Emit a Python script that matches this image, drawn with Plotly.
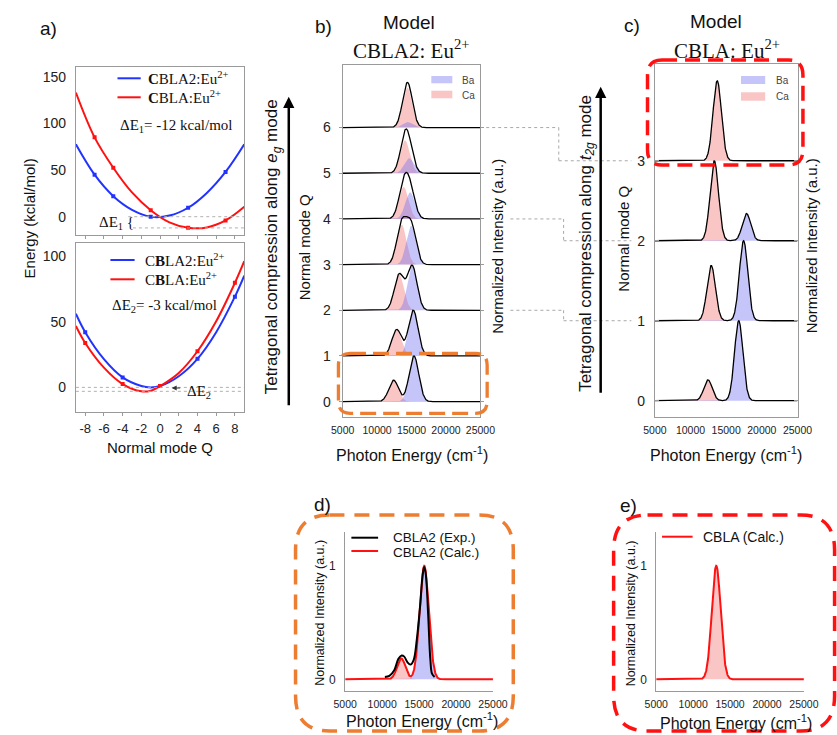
import numpy as np
import plotly.graph_objects as go

W, H = 837, 735

# ---------------- data ----------------
# Panel a (top): energy curves along e_g-like coordinate
qa_top = [-9, -7, -5, -3, -1, 1, 3, 5, 7, 9]
ea_top_cbla2 = [77.6, 45, 22, 7.4, 0, 1.2, 9.6, 25.5, 48, 77.6]
ea_top_cbla = [133, 85, 52.5, 26, 7, -6, -11.8, -11.5, -4, 10.7]
qa_top_pts = [-7, -5, -1, 3, 7]
ea_top_cbla2_pts = [45, 22, 0, 9.6, 48]
ea_top_cbla_pts = [85, 52.5, 7, -11.8, -4]
# Panel a (bottom)
qa_bot = [-9, -8, -6, -4, -2, -1, 0, 2, 4, 6, 8, 9]
ea_bot_cbla2 = [56, 42, 21.5, 7.6, 1, 0, 1, 8.5, 21.7, 42, 69, 85]
ea_bot_cbla = [46.7, 33.8, 15, 2.5, -3, -2.5, 1, 11, 27.5, 50.3, 79.5, 96]
qa_bot_pts = [-8, -4, 0, 4, 8]
ea_bot_cbla2_pts = [42, 7.6, 1, 21.7, 69]
ea_bot_cbla_pts = [33.8, 2.5, 1, 27.5, 79.5]
delta_e = [-12, -3]
x_ticks_a = [-8, -6, -4, -2, 0, 2, 4, 6, 8]

# Panel b: CBLA2 model spectra (band centre cm-1, relative height)
q_b = [0, 1, 2, 3, 4, 5, 6]
b_ca_center = [12400, 12850, 13200, 13550, 13850, 14050, 14400]
b_ca_height = [0.47, 0.58, 0.78, 0.88, 0.70, 0.72, 0.87]
b_ba_center = [15350, 15250, 15100, 14950, 14800, 14650, 14450]
b_ba_height = [1.0, 1.0, 0.97, 0.85, 0.58, 0.33, 0.12]
b_width = 700

# Panel c: CBLA model spectra
q_c = [0, 1, 2, 3]
c_ca_center = [12450, 12900, 13330, 13740]
c_ca_height = [0.26, 0.69, 1.0, 1.0]
c_ba_center = [16760, 17440, 17850, 17900]
c_ba_height = [1.0, 1.0, 0.34, 0.0]
c_width = 590

# Panel d: CBLA2 experiment vs calc
d_exp_x = [10370, 10980, 11640, 12200, 12640, 12990, 13430, 13820, 14260, 14690,
           15130, 15480, 15700, 15920, 16220, 16530, 16750, 17100]
d_exp_y = [0.02, 0.03, 0.08, 0.18, 0.21, 0.20, 0.15, 0.13, 0.17, 0.35,
           0.64, 0.92, 0.99, 0.92, 0.58, 0.17, 0.05, 0.02]
d_calc_ca = (12580, 0.185, 560)
d_calc_ba = (15700, 1.0, 620)

# Panel e: CBLA calc
e_calc_ca = (13130, 1.0, 600)

energy_ticks = [5000, 10000, 15000, 20000, 25000]
energy_labels = ['5000', '10000', '15000', '20000', '25000']
q_labels_a = ['-8', '-6', '-4', '-2', '0', '2', '4', '6', '8']

# ---------------- geometry ----------------
AX = {
    'a1': dict(x=(66, 240), y=(66.7, 235), xr=[-9, 9], yr=[-19.6, 160.7]),
    'a2': dict(x=(66, 240), y=(243.3, 411.7), xr=[-9, 9], yr=[-18.5, 109.6]),
    'b': dict(x=(341.7, 484), y=(65, 416.7), xr=[5000, 25000], yr=[-0.33, 7.37]),
    'c': dict(x=(664.3, 811.7), y=(64, 416.7), xr=[5000, 25000], yr=[-0.2, 4.21]),
    'd': dict(x=(344.3, 497), y=(531.7, 690.7), xr=[5000, 25000], yr=[-0.1, 1.3]),
    'e': dict(x=(665.7, 818.3), y=(531.7, 690.7), xr=[5000, 25000], yr=[-0.1, 1.3]),
}


def px(x):
    return x / W


def py(y):
    return 1 - y / H


def ypix(ax, v):
    g = AX[ax]
    t, b = g['y']
    lo, hi = g['yr']
    return t + (hi - v) / (hi - lo) * (b - t)


SANS = "Liberation Sans, Arial, sans-serif"
SERIF = "Liberation Serif, Times New Roman, serif"
BLUE = '#2233ff'
RED = '#ff1111'
CA_FILL = 'rgba(242,110,110,0.40)'
BA_FILL = 'rgba(110,110,242,0.40)'
ORANGE = '#ED7D31'

fig = go.Figure()
E = np.linspace(5000, 25000, 801)


def band(c, h, s):
    return h * np.exp(-0.5 * ((E - c) / s) ** 2)


def fill_trace(xa, ya, base, comp, color):
    fig.add_trace(go.Scatter(
        x=np.concatenate([E, E[::-1]]),
        y=np.concatenate([base + comp, np.full_like(E, float(base))]),
        fill='toself', fillcolor=color, line=dict(width=0), mode='lines',
        hoverinfo='skip', xaxis=xa, yaxis=ya, showlegend=False))


# ---- panel a ----
for (xa, ya, q, eb, er, qp, ebp, erp) in [
        ('x', 'y', qa_top, ea_top_cbla2, ea_top_cbla, qa_top_pts, ea_top_cbla2_pts, ea_top_cbla_pts),
        ('x2', 'y2', qa_bot, ea_bot_cbla2, ea_bot_cbla, qa_bot_pts, ea_bot_cbla2_pts, ea_bot_cbla_pts)]:
    fig.add_trace(go.Scatter(x=q, y=eb, mode='lines', line=dict(color=BLUE, width=2, shape='spline', smoothing=1.0),
                             xaxis=xa, yaxis=ya, showlegend=False))
    fig.add_trace(go.Scatter(x=q, y=er, mode='lines', line=dict(color=RED, width=2, shape='spline', smoothing=1.0),
                             xaxis=xa, yaxis=ya, showlegend=False))
    fig.add_trace(go.Scatter(x=qp, y=ebp, mode='markers', marker=dict(color=BLUE, size=4, symbol='square'),
                             xaxis=xa, yaxis=ya, showlegend=False))
    fig.add_trace(go.Scatter(x=qp, y=erp, mode='markers', marker=dict(color=RED, size=4, symbol='square'),
                             xaxis=xa, yaxis=ya, showlegend=False))

# ---- panel b ----
for i, q in enumerate(q_b):
    fill_trace('x3', 'y3', q, band(b_ca_center[i], b_ca_height[i], b_width), CA_FILL)
    if b_ba_height[i] > 0:
        fill_trace('x3', 'y3', q, band(b_ba_center[i], b_ba_height[i], b_width), BA_FILL)
for i, q in enumerate(q_b):
    tot = band(b_ca_center[i], b_ca_height[i], b_width) + band(b_ba_center[i], b_ba_height[i], b_width)
    fig.add_trace(go.Scatter(x=E, y=q + tot, mode='lines', line=dict(color='black', width=1.3),
                             xaxis='x3', yaxis='y3', showlegend=False))

# ---- panel c ----
for i, q in enumerate(q_c):
    fill_trace('x4', 'y4', q, band(c_ca_center[i], c_ca_height[i], c_width), CA_FILL)
    if c_ba_height[i] > 0:
        fill_trace('x4', 'y4', q, band(c_ba_center[i], c_ba_height[i], c_width), BA_FILL)
for i, q in enumerate(q_c):
    tot = band(c_ca_center[i], c_ca_height[i], c_width) + band(c_ba_center[i], c_ba_height[i], c_width)
    fig.add_trace(go.Scatter(x=E, y=q + tot, mode='lines', line=dict(color='black', width=1.3),
                             xaxis='x4', yaxis='y4', showlegend=False))

# ---- panel d ----
ca_d = band(*d_calc_ca)
ba_d = band(*d_calc_ba)
fill_trace('x5', 'y5', 0, ca_d, CA_FILL)
fill_trace('x5', 'y5', 0, ba_d, BA_FILL)
fig.add_trace(go.Scatter(x=E, y=ca_d + ba_d, mode='lines', line=dict(color=RED, width=2),
                         xaxis='x5', yaxis='y5', showlegend=False))
fig.add_trace(go.Scatter(x=d_exp_x, y=d_exp_y, mode='lines', line=dict(color='black', width=2, shape='spline'),
                         xaxis='x5', yaxis='y5', showlegend=False))

# ---- panel e ----
ca_e = band(*e_calc_ca)
fill_trace('x6', 'y6', 0, ca_e, CA_FILL)
fig.add_trace(go.Scatter(x=E, y=ca_e, mode='lines', line=dict(color=RED, width=2),
                         xaxis='x6', yaxis='y6', showlegend=False))

# ---------------- axes ----------------
GRAY = '#9a9a9a'


def axis_pair(key, xi, yi, xkw, ykw):
    g = AX[key]
    xs = '' if xi == 1 else str(xi)
    ys = '' if yi == 1 else str(yi)
    xa = dict(domain=[px(g['x'][0]), px(g['x'][1])], range=g['xr'], anchor='y' + ys,
              showgrid=False, zeroline=False, showline=True, linecolor=GRAY, linewidth=1,
              tickfont=dict(family=SANS, size=10.5, color='#222'))
    ya = dict(domain=[py(g['y'][1]), py(g['y'][0])], range=g['yr'], anchor='x' + xs,
              showgrid=False, zeroline=False, showline=True, linecolor=GRAY, linewidth=1,
              tickfont=dict(family=SANS, size=14, color='#222'))
    xa.update(xkw)
    ya.update(ykw)
    return {'xaxis' + xs: xa, 'yaxis' + ys: ya}


ex = dict(tickvals=energy_ticks, ticktext=energy_labels, ticks='', ticklabelstandoff=4)
layout_axes = {}
layout_axes.update(axis_pair('a1', 1, 1,
                             dict(mirror=True, tickvals=x_ticks_a, showticklabels=False, ticks='outside',
                                  ticklen=3, tickcolor=GRAY),
                             dict(mirror=True, tickvals=[0, 50, 100, 150], ticks='', ticklabelstandoff=6)))
layout_axes.update(axis_pair('a2', 2, 2,
                             dict(mirror=True, tickvals=x_ticks_a, ticktext=q_labels_a, ticks='outside',
                                  ticklen=3, tickcolor=GRAY,
                                  tickfont=dict(family=SANS, size=13, color='#222'), ticklabelstandoff=2),
                             dict(mirror=True, tickvals=[0, 50, 100], ticks='', ticklabelstandoff=6)))
layout_axes.update(axis_pair('b', 3, 3, dict(mirror=True, **ex),
                             dict(mirror='allticks', tickvals=q_b, ticks='outside', ticklen=3, tickcolor=GRAY,
                                  ticklabelstandoff=5)))
layout_axes.update(axis_pair('c', 4, 4, dict(mirror=True, **ex),
                             dict(mirror='allticks', tickvals=q_c, ticks='inside', ticklen=4, tickcolor=GRAY,
                                  ticklabelstandoff=6)))
layout_axes.update(axis_pair('d', 5, 5, dict(ex),
                             dict(tickvals=[0, 1], ticks='', ticklabelstandoff=6,
                                  tickfont=dict(family=SANS, size=12, color='#222'))))
layout_axes.update(axis_pair('e', 6, 6, dict(ex),
                             dict(tickvals=[0, 1], ticks='', ticklabelstandoff=6,
                                  tickfont=dict(family=SANS, size=12, color='#222'))))

# ---------------- annotations ----------------
ann = []


def text(x, y, t, size=14, family=SANS, angle=0, xanchor='center', color='#111'):
    ann.append(dict(x=px(x), y=py(y), xref='paper', yref='paper', text=t, showarrow=False,
                    font=dict(family=family, size=size, color=color), textangle=angle,
                    xanchor=xanchor, yanchor='middle'))


# panel labels and titles
text(38, 29, 'a)', 19)
text(322, 27, 'b)', 19)
text(641, 25, 'c)', 19)
text(321, 504, 'd)', 19)
text(637, 505, 'e)', 19)
text(410, 23, 'Model', 19)
text(413, 50, 'CBLA2: Eu<sup>2+</sup>', 21, SERIF)
text(727, 22, 'Model', 19)
text(739, 50, 'CBLA: Eu<sup>2+</sup>', 21, SERIF)

# panel a text
text(19, 218, 'Energy (kclal/mol)', 15, angle=-90)
text(153, 447, 'Normal mode Q', 15)
text(138, 78.3, '<b>C</b>BLA2:Eu<sup>2+</sup>', 15, SERIF, xanchor='left')
text(138, 97.3, '<b>C</b>BLA:Eu<sup>2+</sup>', 15, SERIF, xanchor='left')
text(110, 126, 'ΔE<sub>1</sub>= -12 kcal/mol', 15, SERIF, xanchor='left')
text(88, 223, 'ΔE<sub>1</sub> {', 15, SERIF, xanchor='left')
text(135, 260, 'C<b>B</b>LA2:Eu<sup>2+</sup>', 15, SERIF, xanchor='left')
text(135, 279.3, 'C<b>B</b>LA:Eu<sup>2+</sup>', 15, SERIF, xanchor='left')
text(101.7, 306, 'ΔE<sub>2</sub>= -3 kcal/mol', 15, SERIF, xanchor='left')
text(179, 392, 'ΔE<sub>2</sub>', 15, SERIF, xanchor='left')
ann.append(dict(x=px(165), y=py(388), xref='paper', yref='paper', ax=10, ay=0, text='',
                showarrow=True, arrowhead=2, arrowsize=1, arrowwidth=1, arrowcolor='#333'))

# panel b / c side labels
text(270, 247, 'Tetragonal compression along <i>e<sub>g</sub></i> mode', 17, angle=-90)
text(302, 247, 'Normal mode Q', 15, angle=-90)
text(501, 246, 'Normalized Intensity (a.u.)', 15, angle=-90)
text(413, 454, 'Photon Energy (cm<sup>-1</sup>)', 16)
text(594, 243, 'Tetragonal compression along <i>t<sub>2g</sub></i> mode', 17, angle=-90)
text(631, 239, 'Normal mode Q', 15, angle=-90)
text(826, 246, 'Normalized Intensity (a.u.)', 15, angle=-90)
text(738, 454, 'Photon Energy (cm<sup>-1</sup>)', 16)

# panel d / e labels
text(318, 613, 'Normalized Intensity (a.u.)', 12.5, angle=-90)
text(424, 720, 'Photon Energy (cm<sup>-1</sup>)', 16)
text(640, 613, 'Normalized Intensity (a.u.)', 12.5, angle=-90)
text(748, 722, 'Photon Energy (cm<sup>-1</sup>)', 16)

# legends in b, c, d, e
text(463, 80, 'Ba', 10, color='#444', xanchor='left')
text(463, 95, 'Ca', 10, color='#444', xanchor='left')
text(787, 80, 'Ba', 10, color='#444', xanchor='left')
text(787, 96.5, 'Ca', 10, color='#444', xanchor='left')
text(392, 537, 'CBLA2 (Exp.)', 13.5, xanchor='left')
text(392, 552, 'CBLA2 (Calc.)', 13.5, xanchor='left')
text(712, 536.7, 'CBLA (Calc.)', 14, xanchor='left')

# arrows along the tetragonal-compression labels
ann.append(dict(x=px(286), y=py(96.7), xref='paper', yref='paper', ax=0, ay=310, text='',
                showarrow=True, arrowhead=2, arrowsize=0.9, arrowwidth=2.5, arrowcolor='black'))
ann.append(dict(x=px(608.3), y=py(86.7), xref='paper', yref='paper', ax=0, ay=307.6, text='',
                showarrow=True, arrowhead=2, arrowsize=0.9, arrowwidth=2.5, arrowcolor='black'))

# ---------------- shapes ----------------
shapes = []


def pline(x0, y0, x1, y1, color, width=1, dash='solid'):
    shapes.append(dict(type='line', xref='paper', yref='paper', x0=px(x0), y0=py(y0), x1=px(x1), y1=py(y1),
                       line=dict(color=color, width=width, dash=dash)))


def prect(x0, y0, x1, y1, fill):
    shapes.append(dict(type='rect', xref='paper', yref='paper', x0=px(x0), y0=py(y0), x1=px(x1), y1=py(y1),
                       fillcolor=fill, line=dict(width=0)))


def rounded(x0, y0, x1, y1, r, color, width, dash):
    pts = [('M', x0 + r, y0), ('L', x1 - r, y0), ('Q', x1, y0, x1, y0 + r), ('L', x1, y1 - r),
           ('Q', x1, y1, x1 - r, y1), ('L', x0 + r, y1), ('Q', x0, y1, x0, y1 - r), ('L', x0, y0 + r),
           ('Q', x0, y0, x0 + r, y0)]
    s = ''
    for p in pts:
        cmd = p[0]
        coords = p[1:]
        parts = []
        for k in range(0, len(coords), 2):
            parts.append('%.5f,%.5f' % (px(coords[k]), py(coords[k + 1])))
        s += cmd + ' '.join(parts) + ' '
    shapes.append(dict(type='path', xref='paper', yref='paper', path=s + 'Z',
                       line=dict(color=color, width=width, dash=dash)))


# panel a legend lines
pline(109, 78.3, 133, 78.3, BLUE, 2)
pline(109, 97.3, 133, 97.3, RED, 2)
pline(101.7, 260, 126.7, 260, BLUE, 2)
pline(101.7, 279.3, 126.7, 279.3, RED, 2)

# panel a reference dotted lines
shapes.append(dict(type='line', xref='x', yref='y', x0=-3.4, x1=9, y0=0, y1=0,
                   line=dict(color='#b0b0b0', width=1, dash='dot')))
shapes.append(dict(type='line', xref='x', yref='y', x0=-2.9, x1=9, y0=delta_e[0], y1=delta_e[0],
                   line=dict(color='#b0b0b0', width=1, dash='dot')))
shapes.append(dict(type='line', xref='x2', yref='y2', x0=-9, x1=9, y0=0, y1=0,
                   line=dict(color='#b0b0b0', width=1, dash='dot')))
shapes.append(dict(type='line', xref='x2', yref='y2', x0=-9, x1=9, y0=delta_e[1], y1=delta_e[1],
                   line=dict(color='#b0b0b0', width=1, dash='dot')))

# b/c legend swatches
prect(433.3, 76, 455, 83.3, BA_FILL)
prect(433.3, 90.7, 455, 98.3, CA_FILL)
prect(753.3, 76, 778.3, 84, BA_FILL)
prect(753.3, 92.3, 778.3, 100.7, CA_FILL)

# d/e legend lines
pline(350.7, 537.7, 378.3, 537.7, 'black', 2)
pline(350.7, 551, 378.3, 551, RED, 2)
pline(671.7, 536.7, 703.3, 536.7, RED, 2)

# dotted connectors between panel b and c
for (qb, qc, xs, xm) in [(6, 3, 490, 565), (4, 2, 515, 570), (2, 1, 515, 570)]:
    yb = ypix('b', qb)
    yc = ypix('c', qc)
    for (a0, b0, a1, b1) in [(xs, yb, xm, yb), (xm, yb, xm, yc), (xm, yc, 640, yc)]:
        pline(a0, b0, a1, b1, '#a8a8a8', 1, 'dot')

# dashed rounded highlight boxes
rounded(337.3, 353.3, 491, 413.3, 12, ORANGE, 3.3, '16px,7px')
rounded(656.7, 60, 817.3, 165, 15, RED, 3.5, '15px,8px')
rounded(293, 515, 518, 731, 35, ORANGE, 3.5, '15px,10px')
rounded(621.7, 515, 850, 731, 35, RED, 3.5, '15px,10px')

fig.update_layout(
    width=W, height=H, margin=dict(l=0, r=0, t=0, b=0),
    paper_bgcolor='white', plot_bgcolor='white', showlegend=False,
    annotations=ann, shapes=shapes, **layout_axes)

fig.write_html("out.html")
